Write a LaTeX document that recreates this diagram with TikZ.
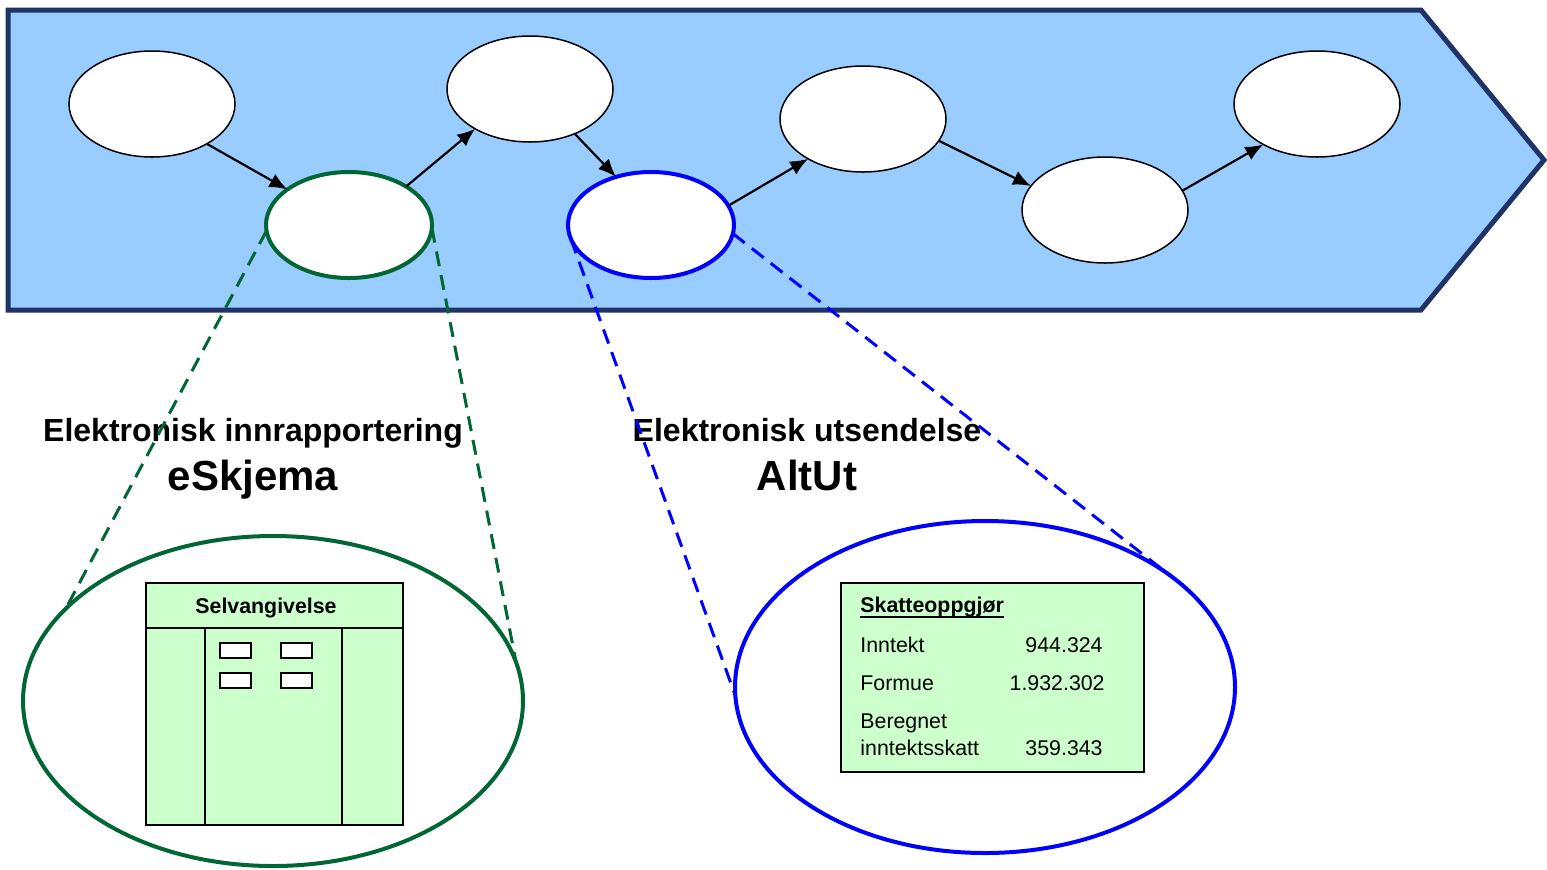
\documentclass[tikz,border=0pt]{standalone}
\usepackage{fontspec}
\setmainfont{Liberation Sans}
\usetikzlibrary{shapes.geometric, arrows.meta}
\definecolor{bandfill}{HTML}{99CCFF}
\definecolor{bandline}{HTML}{1F3366}
\definecolor{skjemagreen}{HTML}{006633}
\definecolor{papirgreen}{HTML}{CCFFCC}
\definecolor{altutblue}{HTML}{0000FF}

\begin{document}
\begin{tikzpicture}[
        >={Latex[length=9pt, width=7.5pt]},
        x=0.5pt,
        y=-0.5pt,
        trinn/.style={ellipse, draw=black, line width=0.75pt, fill=white,
            minimum width=83pt, minimum height=53pt, inner sep=0pt, outer sep=0pt},
        zoom/.style={ellipse, draw=#1, line width=2pt,
            minimum width=250pt, minimum height=165pt, inner sep=0pt, outer sep=0pt},
        zoomline/.style={draw=#1, line width=1.5pt, dash pattern=on 7.5pt off 4.5pt},
        overskrift/.style={font=\bfseries\fontsize{16}{19}\selectfont, inner sep=0pt, anchor=base},
        navn/.style={font=\bfseries\fontsize{21}{25}\selectfont, inner sep=0pt, anchor=base},
        liten/.style={font=\fontsize{10.67}{13}\selectfont, inner sep=0pt, anchor=base west},
        tall/.style={font=\fontsize{10.67}{13}\selectfont, inner sep=0pt, anchor=base east},
        papir/.style={draw=black, fill=papirgreen, line width=0.75pt, anchor=north west, inner sep=0pt}
    ]
    \useasboundingbox (0,0) rectangle (1547,869);

    \draw[line width=2.5pt, draw=bandline, fill=bandfill, line join=miter]
        (8,10) -- (1421,10) -- (1544,160) -- (1421,310) -- (8,310) -- cycle;

    \node[trinn] (t1) at (152,104) {};
    \node[trinn, draw=skjemagreen, line width=2pt] (t2) at (349,225) {};
    \node[trinn] (t3) at (530,89) {};
    \node[trinn, draw=altutblue, line width=2pt] (t4) at (651,225) {};
    \node[trinn] (t5) at (863,119) {};
    \node[trinn] (t6) at (1105,210) {};
    \node[trinn] (t7) at (1317,104) {};

    \path[->, line width=1.1pt] (t1.-36) edge (t2.150.8)
        (t2.34.9) edge (t3.216.5)
        (t3.-45.7) edge (t4.126.3)
        (t4.14) edge (t5.216.5)
        (t5.-16.8) edge (t6.162.3)
        (t6.14.2) edge (t7.217.2);

    \node[overskrift] (inn) at (253,441) {Elektronisk innrapportering};
    \node[navn] (eskjema) at (253,490) {eSkjema};
    \node[overskrift] (ut) at (807,441) {Elektronisk utsendelse};
    \node[navn] (altut) at (807,490) {AltUt};

    \node[zoom=skjemagreen] (gzoom) at (273,701) {};
    \node[zoom=altutblue, minimum height=166pt] (bzoom) at (985,687) {};

    \draw[zoomline=skjemagreen] (t2.184.8) -- (gzoom.156.6);
    \draw[zoomline=skjemagreen] (t2.-2) -- (gzoom.9);
    \draw[zoomline=altutblue] (t4.190.4) -- (bzoom.182.3);
    \draw[zoomline=altutblue] (t4.-6.8) -- (bzoom.27.5);

    % selvangivelse
    \node[papir, minimum width=128.5pt, minimum height=121pt] (skjema) at (145,582) {};
    \node[liten, anchor=base, font=\bfseries\fontsize{10.67}{13}\selectfont] (selv) at (266,613) {Selvangivelse};
    \draw[line width=0.75pt] (145,628) -- (402,628);
    \draw[line width=0.75pt] (205,628) -- (205,824);
    \draw[line width=0.75pt] (342,628) -- (342,824);
    \foreach \x in {220,281}
        \foreach \y in {643,673}
            \draw[line width=0.75pt, fill=white] (\x,\y) rectangle ++(31,15);

    % skatteoppgjoer
    \node[papir, minimum width=151.5pt, minimum height=94.5pt] (oppgjor) at (840,582) {};
    \node[liten, font=\bfseries\fontsize{10.67}{13}\selectfont] (sk) at (860,612) {Skatteoppgjør};
    \draw[line width=0.75pt] ([yshift=-2.5pt]sk.base west) -- ([yshift=-2.5pt]sk.base east);
    \node[liten] (inntekt) at (860,652) {Inntekt};
    \node[tall] (inntektsum) at (1103,652) {944.324};
    \node[liten] (formue) at (860,690) {Formue};
    \node[tall] (formuesum) at (1105,690) {1.932.302};
    \node[liten] (beregnet) at (860,728) {Beregnet};
    \node[liten] (skatt) at (860,755) {inntektsskatt};
    \node[tall] (skattsum) at (1103,755) {359.343};
\end{tikzpicture}
\end{document}
